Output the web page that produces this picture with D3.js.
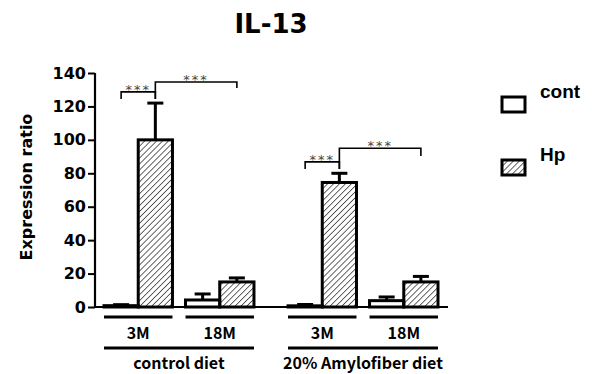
<!DOCTYPE html>
<html>
<head>
<meta charset="utf-8">
<script src="https://cdn.jsdelivr.net/npm/d3@7"></script>
<style>
  body { margin: 0; background: #fff; }
  svg { display: block; }
  .tick text { font-family: "DejaVu Sans", Verdana, sans-serif; font-weight: bold; font-size: 16px; fill: #000; }
  .cat { font-family: "Noto Sans CJK JP", sans-serif; font-weight: bold; font-size: 16px; }
</style>
</head>
<body>
<div id="chart"></div>
<script>
// order of values: [control 3M, control 18M, amylofiber 3M, amylofiber 18M]
const diets = ["control diet", "20% Amylofiber diet"];
const ages = ["3M", "18M"];
const series = ["cont", "Hp"];
const contMean = [0.8, 4.2, 0.7, 3.8];
const contErr = [0.6, 3.6, 0.8, 2.2];
const hpMean = [100, 15, 74.5, 15];
const hpErr = [22, 2.4, 5.5, 3.3];
const yTicks = [0, 20, 40, 60, 80, 100, 120, 140];

// significance brackets: y = bar height, legA/legB = where the legs end
const brackets = [
  { diet: 0, a: ["3M", "cont"], b: ["3M", "Hp"], y: 128.7, legA: 124.5, legB: 124.5 },
  { diet: 0, a: ["3M", "Hp"], b: ["18M", "Hp"], y: 134.6, legA: 124.5, legB: 131 },
  { diet: 1, a: ["3M", "cont"], b: ["3M", "Hp"], y: 86.8, legA: 82.6, legB: 82.6 },
  { diet: 1, a: ["3M", "Hp"], b: ["18M", "Hp"], y: 95, legA: 82.6, legB: 90.4 }
];

const width = 592, height = 374;

const svg = d3.select("#chart").append("svg")
  .attr("width", width)
  .attr("height", height);

const defs = svg.append("defs");
defs.append("pattern")
  .attr("id", "hatch")
  .attr("patternUnits", "userSpaceOnUse")
  .attr("width", 4.2)
  .attr("height", 4.2)
  .attr("patternTransform", "rotate(45)")
  .append("line")
  .attr("x1", 0).attr("y1", 0)
  .attr("x2", 0).attr("y2", 4.2)
  .attr("stroke", "#000")
  .attr("stroke-width", 1.2);

const fills = { cont: "#fff", Hp: "url(#hatch)" };

// build rows
const rows = [];
diets.forEach((diet, di) => {
  ages.forEach((age, ai) => {
    const i = di * 2 + ai;
    rows.push({ diet, di, age, s: "cont", mean: contMean[i], err: contErr[i] });
    rows.push({ diet, di, age, s: "Hp", mean: hpMean[i], err: hpErr[i] });
  });
});

const y = d3.scaleLinear().domain([0, 140]).range([307, 73]);

const xDiet = d3.scaleBand().domain(diets).range([104, 438]).paddingInner(0.185);
const xAge = d3.scaleBand().domain(ages).range([0, xDiet.bandwidth()]).paddingInner(0.16);
const xSer = d3.scaleBand().domain(series).range([0, xAge.bandwidth()]);

const barX = d => xDiet(d.diet) + xAge(d.age) + xSer(d.s);
const centerX = (diet, age, s) => xDiet(diet) + xAge(age) + xSer(s) + xSer.bandwidth() / 2;

// title
svg.append("text")
  .attr("x", 271)
  .attr("y", 33)
  .attr("text-anchor", "middle")
  .style("font-family", "'DejaVu Sans', Verdana, sans-serif")
  .style("font-weight", "bold")
  .style("font-size", "26px")
  .text("IL-13");

// y axis
const yAxis = svg.append("g")
  .attr("transform", "translate(95,0)")
  .call(d3.axisLeft(y).tickValues(yTicks).tickSize(7).tickPadding(2));
yAxis.select(".domain").attr("stroke-width", 2.2).attr("d", `M0,${y(140)}V${y(0)}`);
yAxis.selectAll(".tick line").attr("stroke-width", 2);

svg.append("text")
  .attr("transform", "translate(32,187) rotate(-90)")
  .attr("text-anchor", "middle")
  .style("font-family", "'DejaVu Sans', Verdana, sans-serif")
  .style("font-weight", "bold")
  .style("font-size", "16px")
  .text("Expression ratio");

// error bars
const eb = svg.append("g").selectAll("g")
  .data(rows)
  .enter().append("g");
eb.append("line")
  .attr("x1", d => barX(d) + xSer.bandwidth() / 2)
  .attr("x2", d => barX(d) + xSer.bandwidth() / 2)
  .attr("y1", d => y(d.mean))
  .attr("y2", d => y(d.mean + d.err))
  .attr("stroke", "#000")
  .attr("stroke-width", 3);
eb.append("line")
  .attr("x1", d => barX(d) + xSer.bandwidth() / 2 - 8)
  .attr("x2", d => barX(d) + xSer.bandwidth() / 2 + 8)
  .attr("y1", d => y(d.mean + d.err))
  .attr("y2", d => y(d.mean + d.err))
  .attr("stroke", "#000")
  .attr("stroke-width", 3);

// bars
svg.append("g").selectAll("rect")
  .data(rows)
  .enter().append("rect")
  .attr("x", d => barX(d))
  .attr("y", d => y(d.mean))
  .attr("width", xSer.bandwidth())
  .attr("height", d => y(0) - y(d.mean))
  .attr("fill", d => fills[d.s])
  .attr("stroke", "#000")
  .attr("stroke-width", 3);

// x baseline
svg.append("line")
  .attr("x1", 94).attr("x2", 448)
  .attr("y1", y(0)).attr("y2", y(0))
  .attr("stroke", "#000")
  .attr("stroke-width", 2.2);

// group underlines and labels
diets.forEach(diet => {
  ages.forEach(age => {
    const x0 = xDiet(diet) + xAge(age);
    svg.append("line")
      .attr("x1", x0).attr("x2", x0 + xAge.bandwidth())
      .attr("y1", 317).attr("y2", 317)
      .attr("stroke", "#000").attr("stroke-width", 3);
    svg.append("text")
      .attr("class", "cat")
      .attr("x", x0 + xAge.bandwidth() / 2)
      .attr("y", 339)
      .attr("text-anchor", "middle")
      .text(age);
  });
  svg.append("line")
    .attr("x1", xDiet(diet)).attr("x2", xDiet(diet) + xDiet.bandwidth())
    .attr("y1", 348).attr("y2", 348)
    .attr("stroke", "#000").attr("stroke-width", 3);
  svg.append("text")
    .attr("class", "cat")
    .attr("x", xDiet(diet) + xDiet.bandwidth() / 2)
    .attr("y", 369)
    .attr("text-anchor", "middle")
    .text(diet);
});

// significance brackets
const br = svg.append("g").selectAll("g")
  .data(brackets)
  .enter().append("g");
br.append("path")
  .attr("d", d => {
    const xa = centerX(diets[d.diet], d.a[0], d.a[1]);
    const xb = centerX(diets[d.diet], d.b[0], d.b[1]);
    return `M${xa},${y(d.legA)}V${y(d.y)}H${xb}V${y(d.legB)}`;
  })
  .attr("fill", "none")
  .attr("stroke", "#000")
  .attr("stroke-width", 1.6);
br.append("text")
  .attr("x", d => (centerX(diets[d.diet], d.a[0], d.a[1]) + centerX(diets[d.diet], d.b[0], d.b[1])) / 2)
  .attr("y", d => y(d.y) + 2)
  .attr("text-anchor", "middle")
  .style("font-family", "'DejaVu Sans', sans-serif")
  .style("font-size", "13px")
  .style("letter-spacing", "2px")
  .attr("fill", "#444")
  .text("***");

// legend
const legend = svg.append("g").selectAll("g")
  .data(series)
  .enter().append("g")
  .attr("transform", (d, i) => `translate(502,${97 + i * 63})`);
legend.append("rect")
  .attr("width", 23)
  .attr("height", 15)
  .attr("fill", d => fills[d])
  .attr("stroke", "#000")
  .attr("stroke-width", 3);
legend.append("text")
  .attr("x", 38)
  .attr("y", 1)
  .style("font-family", "'Liberation Sans', Arial, sans-serif")
  .style("font-weight", "bold")
  .style("font-size", "19px")
  .text(d => d);
</script>
</body>
</html>
